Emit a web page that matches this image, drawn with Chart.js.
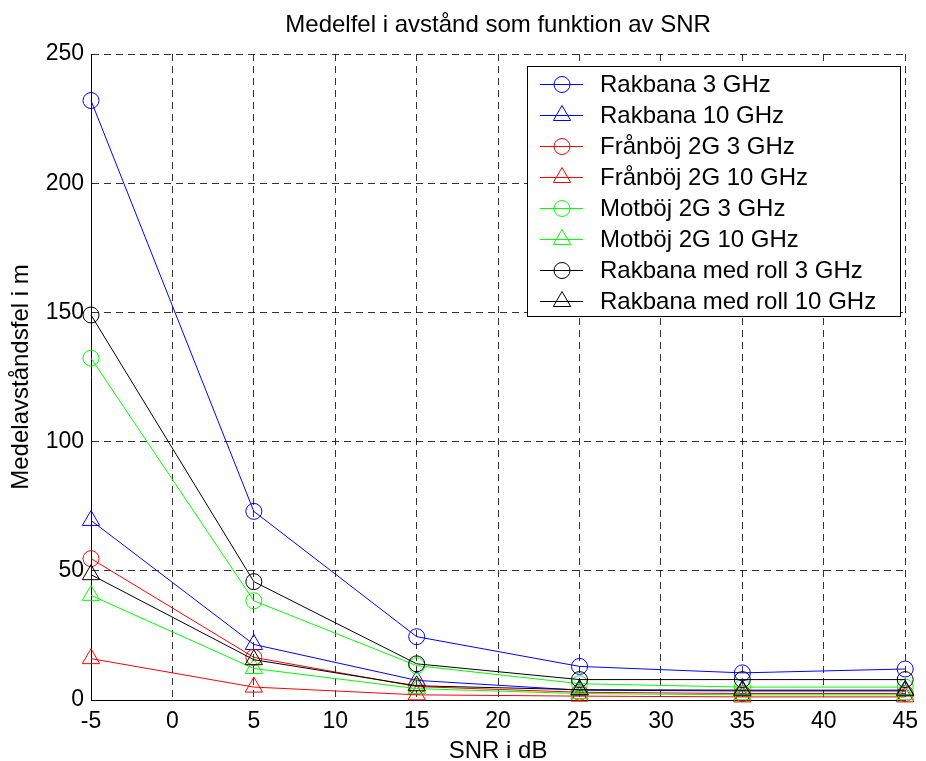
<!DOCTYPE html>
<html>
<head>
<meta charset="utf-8">
<script src="https://cdn.jsdelivr.net/npm/chart.js@4/dist/chart.umd.min.js"></script>
<style>
html,body{margin:0;padding:0;background:#fff;}
#wrap{width:926px;height:761px;}
</style>
</head>
<body>
<div id="wrap"><canvas id="c" width="926" height="761"></canvas></div>
<script>
const snr = [-5, 5, 15, 25, 35, 45];
const xTicks = [-5, 0, 5, 10, 15, 20, 25, 30, 35, 40, 45];
const yTicks = [0, 50, 100, 150, 200, 250];

const rakbana3 = [232, 73, 24.5, 13, 10.5, 12];
const rakbana10 = [69.5, 21.5, 7.6, 3.8, 3.5, 3.5];
const franboj3 = [54.7, 16.5, 5.2, 3.0, 2.5, 2.5];
const franboj10 = [16, 5, 2, 1.5, 1.2, 1.2];
const motboj3 = [132.3, 38.4, 13.3, 6.3, 5.0, 5.0];
const motboj10 = [40.5, 12.2, 4.4, 2.5, 2.0, 2.0];
const roll3 = [149, 45.8, 14, 7.9, 7.9, 7.9];
const roll10 = [48.5, 15.6, 5.5, 4.0, 3.8, 3.8];

const seriesLabels = [
  'Rakbana 3 GHz', 'Rakbana 10 GHz', 'Frånböj 2G 3 GHz', 'Frånböj 2G 10 GHz',
  'Motböj 2G 3 GHz', 'Motböj 2G 10 GHz', 'Rakbana med roll 3 GHz', 'Rakbana med roll 10 GHz'
];
const seriesValues = [rakbana3, rakbana10, franboj3, franboj10, motboj3, motboj10, roll3, roll10];
const seriesColors = ['#0000ff', '#0000ff', '#ff0000', '#ff0000', '#00ff00', '#00ff00', '#000000', '#000000'];
const seriesMarkers = ['circle', 'triangle', 'circle', 'triangle', 'circle', 'triangle', 'circle', 'triangle'];

const FONT = "'Liberation Sans', Arial, sans-serif";

const datasets = seriesLabels.map((lab, i) => ({
  label: lab,
  data: snr.map((x, j) => ({x: x, y: seriesValues[i][j]})),
  borderColor: seriesColors[i],
  backgroundColor: 'rgba(0,0,0,0)',
  pointBorderColor: seriesColors[i],
  pointBackgroundColor: 'rgba(0,0,0,0)',
  pointStyle: seriesMarkers[i],
  pointRadius: seriesMarkers[i] === 'circle' ? 8 : 10,
  pointBorderWidth: 1,
  borderWidth: 1,
  tension: 0,
  clip: false,
  order: seriesLabels.length - i
}));

const overlay = {
  id: 'overlay',
  afterDraw(chart) {
    const ctx = chart.ctx;
    const ca = chart.chartArea;
    ctx.save();
    // title
    ctx.fillStyle = '#000';
    ctx.font = '24px ' + FONT;
    ctx.textAlign = 'center';
    ctx.textBaseline = 'alphabetic';
    ctx.fillText('Medelfel i avstånd som funktion av SNR', (ca.left + ca.right) / 2, 32);
    // legend
    const lx = 527, ly = 66, lw = 373, lh = 250;
    ctx.fillStyle = '#fff';
    ctx.fillRect(lx, ly, lw, lh);
    ctx.strokeStyle = '#000';
    ctx.lineWidth = 1;
    ctx.strokeRect(lx + 0.5, ly + 0.5, lw, lh);
    ctx.font = '24px ' + FONT;
    ctx.textAlign = 'left';
    ctx.textBaseline = 'middle';
    chart.data.datasets.forEach((ds, i) => {
      const y = 84.5 + i * 31;
      ctx.strokeStyle = ds.borderColor;
      ctx.lineWidth = 1;
      ctx.beginPath();
      ctx.moveTo(540, y);
      ctx.lineTo(583, y);
      ctx.stroke();
      ctx.fillStyle = '#fff';
      ctx.strokeStyle = ds.borderColor;
      Chart.helpers.drawPoint(ctx, {
        pointStyle: ds.pointStyle,
        radius: ds.pointRadius,
        borderWidth: 1,
        rotation: 0
      }, 562, y);
      // redraw line through marker (transparent marker look)
      ctx.beginPath();
      ctx.moveTo(540, y);
      ctx.lineTo(583, y);
      ctx.stroke();
      ctx.fillStyle = '#000';
      ctx.fillText(ds.label, 600, y + 1);
    });
    ctx.restore();
  }
};

new Chart(document.getElementById('c'), {
  type: 'line',
  data: { datasets: datasets },
  plugins: [overlay],
  options: {
    responsive: false,
    animation: false,
    layout: { padding: { top: 54, right: 13, bottom: 0, left: 0 } },
    plugins: { legend: { display: false }, title: { display: false }, tooltip: { enabled: false } },
    scales: {
      x: {
        type: 'linear',
        min: -5, max: 45,
        afterFit(s) { s.height = 61; },
        afterBuildTicks(s) { s.ticks = xTicks.map(v => ({value: v})); },
        ticks: { color: '#000', font: { family: FONT, size: 23 }, padding: 8, maxRotation: 0 },
        grid: { color: 'rgba(0,0,0,0.8)', lineWidth: 1, drawTicks: false },
        border: { display: true, color: '#000', width: 1, dash: [7, 5] },
        title: { display: true, text: 'SNR i dB', color: '#000', font: { family: FONT, size: 24, lineHeight: 0.8 }, padding: { top: 0, bottom: 0 } }
      },
      y: {
        type: 'linear',
        min: 0, max: 250,
        afterFit(s) { s.width = 91; },
        afterBuildTicks(s) { s.ticks = yTicks.map(v => ({value: v})); },
        ticks: { color: '#000', font: { family: FONT, size: 23 }, padding: 7 },
        grid: { color: 'rgba(0,0,0,0.8)', lineWidth: 1, drawTicks: false },
        border: { display: true, color: '#000', width: 1, dash: [7, 5] },
        title: { display: true, text: 'Medelavståndsfel i m', color: '#000', font: { family: FONT, size: 24, lineHeight: 1.2 }, padding: { top: 7, bottom: 0 } }
      }
    }
  }
});
</script>
</body>
</html>
